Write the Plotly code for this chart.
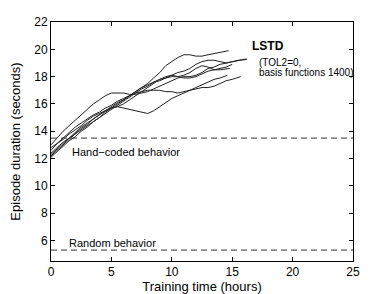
import plotly.graph_objects as go

# ---- data ----
hours_a = [0,0.5,1,1.5,2,2.5,3,3.5,4,4.5,5,5.5,6,6.5,7,7.5,8,8.5,9,9.5,10,10.5,11,11.5,12,12.5,13,13.5,14,14.7]
run1 = [12.4,12.8,13.2,13.5,13.9,14.3,14.6,14.9,15.2,15.5,15.8,16.1,16.3,16.6,16.9,17.2,17.5,17.9,18.3,18.8,19.1,19.4,19.6,19.6,19.5,19.5,19.6,19.7,19.8,19.9]

hours_b = [0,0.5,1,1.5,2,2.5,3,3.5,4,4.5,5,5.5,6,6.5,7,7.5,8,8.5,9,9.5,10,10.5,11,11.5,12,12.5,13,13.5,14,14.5,15,15.5,16.2]
run2 = [13.0,13.5,14.0,14.4,14.8,15.2,15.6,16.0,16.3,16.6,16.8,16.8,16.8,16.7,16.7,16.8,16.9,17.1,17.3,17.5,17.7,17.9,18.0,18.0,18.1,18.3,18.6,18.7,18.9,19.0,19.1,19.2,19.3]

hours_c = [0,0.5,1,1.5,2,2.5,3,3.5,4,4.5,5,5.5,6,6.5,7,7.5,8,8.5,9,9.5,10,10.5,11,11.5,12,12.5,13,13.5,14,14.5,15,15.7]
run3 = [12.2,12.6,13.0,13.4,13.8,14.2,14.5,14.9,15.2,15.5,15.7,15.8,15.7,15.6,15.5,15.4,15.3,15.5,15.8,16.1,16.4,16.6,16.8,17.0,17.1,17.2,17.2,17.3,17.5,17.7,17.8,18.0]

hours_d = [0,0.5,1,1.5,2,2.5,3,3.5,4,4.5,5,5.5,6,6.5,7,7.5,8,8.5,9,9.5,10,10.5,11,11.5,12,12.5,13,13.5,14,14.6]
run4 = [12.6,13.1,13.5,13.9,14.3,14.6,14.9,15.2,15.4,15.7,15.9,16.2,16.4,16.6,16.8,16.9,17.0,17.0,17.0,16.9,16.9,16.8,16.9,17.0,17.2,17.4,17.6,17.8,17.9,18.1]

hours_e = [0,0.5,1,1.5,2,2.5,3,3.5,4,4.5,5,5.5,6,6.5,7,7.5,8,8.5,9,9.5,10,10.5,11,11.5,12,12.5,13,13.5,14,14.8]
run5 = [12.3,12.7,13.1,13.5,13.8,14.1,14.4,14.7,15.0,15.3,15.6,15.9,16.2,16.5,16.8,17.1,17.3,17.6,17.8,17.9,18.0,18.0,17.9,17.9,18.0,18.2,18.4,18.5,18.5,18.6]

hours_f = [0,0.5,1,1.5,2,2.5,3,3.5,4,4.5,5,5.5,6,6.5,7,7.5,8,8.5,9,9.5,10,10.5,11,11.5,12,12.5,13,13.5,14,14.5,15,15.5,16.2]
run6 = [12.1,12.5,12.9,13.3,13.6,14.0,14.3,14.7,15.0,15.4,15.7,16.0,16.3,16.6,16.9,17.2,17.4,17.6,17.7,17.9,18.1,18.3,18.4,18.6,18.9,19.1,19.2,19.2,19.1,19.0,19.1,19.2,19.25]

hours_g = [0,0.5,1,1.5,2,2.5,3,3.5,4,4.5,5,5.5,6,6.5,7,7.5,8,8.5,9,9.5,10,10.5,11,11.5,12,12.5,13,13.5,14,14.5,15]
run7 = [12.8,13.1,13.4,13.8,14.1,14.4,14.8,15.1,15.3,15.5,15.7,15.8,16.0,16.3,16.6,16.9,17.2,17.5,17.8,18.0,18.1,18.0,18.1,18.3,18.6,18.8,18.7,18.5,18.6,18.7,18.9]

runs = [(hours_a, run1), (hours_b, run2), (hours_c, run3), (hours_d, run4),
        (hours_e, run5), (hours_f, run6), (hours_g, run7)]

hand_coded = 13.5
random_behavior = 5.3
x_span = [0, 25]

x_ticks = [0, 5, 10, 15, 20, 25]
y_ticks = [6, 8, 10, 12, 14, 16, 18, 20, 22]

FONT = "Liberation Sans, Arial, Helvetica, sans-serif"

fig = go.Figure()
for hx, hy in runs:
    fig.add_trace(go.Scatter(x=hx, y=hy, mode="lines",
                             line=dict(color="#222222", width=1),
                             showlegend=False, hoverinfo="skip"))

for level in (hand_coded, random_behavior):
    fig.add_trace(go.Scatter(x=x_span, y=[level, level], mode="lines",
                             line=dict(color="#333333", width=1, dash="6px,4px"),
                             showlegend=False, hoverinfo="skip"))

fig.add_annotation(x=1.6, y=12.5, text="Hand\u2212coded behavior", showarrow=False,
                   xanchor="left", yanchor="middle", font=dict(size=11, color="black", family=FONT))
fig.add_annotation(x=1.3, y=5.85, text="Random behavior", showarrow=False,
                   xanchor="left", yanchor="middle", font=dict(size=11, color="black", family=FONT))
fig.add_annotation(x=16.5, y=20.26, text="<b>LSTD</b>", showarrow=False,
                   xanchor="left", yanchor="middle", font=dict(size=12, color="black", family=FONT))
fig.add_annotation(x=17.05, y=19.04, text="(TOL2=0,", showarrow=False,
                   xanchor="left", yanchor="middle", font=dict(size=10, color="black", family=FONT))
fig.add_annotation(x=17.05, y=18.31, text="basis functions 1400)", showarrow=False,
                   xanchor="left", yanchor="middle", font=dict(size=10, color="black", family=FONT))

axis_common = dict(showline=True, linecolor="black", linewidth=1, mirror="ticks",
                   ticks="inside", ticklen=4, tickcolor="black", showgrid=False,
                   zeroline=False, automargin=False,
                   tickfont=dict(size=12, color="black", family=FONT))

fig.update_xaxes(range=[0, 25], tickvals=x_ticks, **axis_common,
                 title=dict(text="Training time (hours)", font=dict(size=13, color="black", family=FONT), standoff=1))
fig.update_yaxes(range=[4.5, 22], tickvals=y_ticks, **axis_common,
                 title=dict(text="Episode duration (seconds)", font=dict(size=13, color="black", family=FONT), standoff=11))

# page body adds an 8px offset, so the figure is sized/margined to compensate
fig.update_layout(width=382, height=286, margin=dict(l=43, r=37, t=14, b=33),
                  paper_bgcolor="white", plot_bgcolor="white")

fig.write_html("out.html")
